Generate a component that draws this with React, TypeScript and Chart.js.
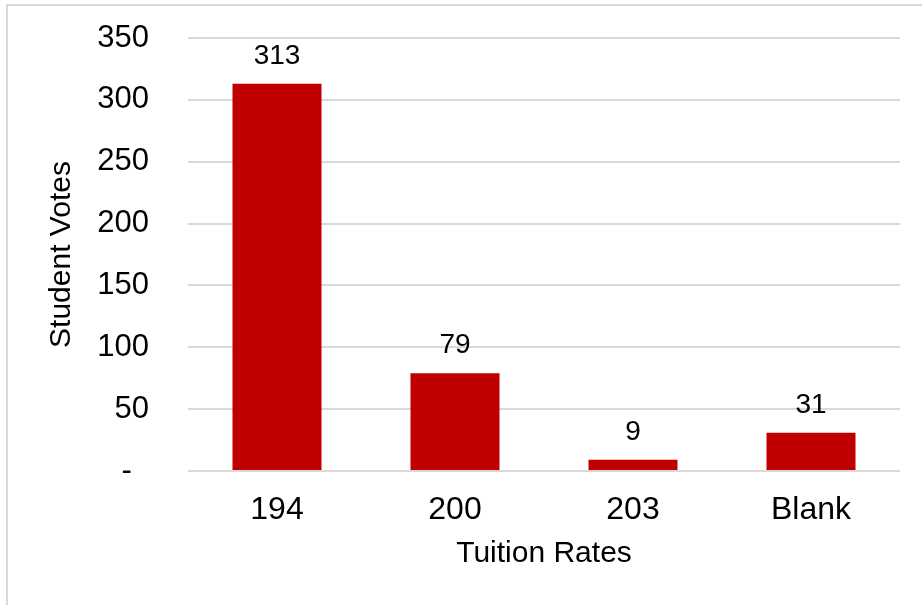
import React, { useEffect, useRef } from "react";
import { Chart, registerables } from "chart.js";

Chart.register(...registerables);

const categories = ["194", "200", "203", "Blank"];
const votes = [313, 79, 9, 31];
const yTicks = [0, 50, 100, 150, 200, 250, 300, 350];
const xTitle = "Tuition Rates";
const yTitle = "Student Votes";

const FONT = "'Liberation Sans', Arial, sans-serif";

const framePlugin = {
  id: "frame",
  beforeDraw(chart: any) {
    const ctx = chart.ctx;
    ctx.save();
    ctx.fillStyle = "#ffffff";
    ctx.fillRect(0, 0, chart.width, chart.height);
    ctx.strokeStyle = "#d9d9d9";
    ctx.lineWidth = 2;
    ctx.beginPath();
    ctx.moveTo(7, chart.height + 5);
    ctx.lineTo(7, 5);
    ctx.lineTo(chart.width + 5, 5);
    ctx.stroke();
    ctx.restore();
  },
};

const labelPlugin = {
  id: "barLabels",
  afterDatasetsDraw(chart: any) {
    const ctx = chart.ctx;
    const meta = chart.getDatasetMeta(0);
    const data = chart.data.datasets[0].data;
    ctx.save();
    ctx.fillStyle = "#000000";
    ctx.font = `28px ${FONT}`;
    ctx.textAlign = "center";
    ctx.textBaseline = "alphabetic";
    meta.data.forEach((bar: any, i: number) => {
      ctx.fillText(String(data[i]), bar.x, bar.y - 20);
    });
    ctx.restore();
  },
};

export default function App() {
  const ref = useRef<HTMLCanvasElement | null>(null);
  useEffect(() => {
    if (!ref.current) return;
    const chart = new Chart(ref.current, {
      type: "bar",
      data: {
        labels: categories,
        datasets: [
          {
            data: votes,
            backgroundColor: "#c00000",
            borderWidth: 0,
            barPercentage: 0.5,
            categoryPercentage: 1,
          },
        ],
      },
      options: {
        animation: false,
        responsive: false,
        maintainAspectRatio: false,
        layout: { padding: { top: 38, right: 22, left: 0, bottom: 0 } },
        plugins: {
          legend: { display: false },
          tooltip: { enabled: false },
        },
        scales: {
          x: {
            grid: { display: false, drawTicks: false },
            border: { display: false },
            ticks: {
              color: "#000000",
              font: { family: FONT, size: 32 },
              padding: 20,
              maxRotation: 0,
            },
            title: {
              display: true,
              text: xTitle,
              color: "#000000",
              font: { family: FONT, size: 30 },
              padding: { top: 0, bottom: 33 },
            },
            afterFit(scale: any) {
              scale.height = 134;
              scale.paddingLeft = 0;
              scale.paddingRight = 0;
            },
          },
          y: {
            min: 0,
            max: 350,
            afterBuildTicks(scale: any) {
              scale.ticks = yTicks.map((v) => ({ value: v }));
            },
            grid: { color: "#d9d9d9", lineWidth: 2, drawTicks: false },
            border: { display: false },
            ticks: {
              color: "#000000",
              font: { family: FONT, size: 31 },
              padding: 39,
              callback: (v: any) => (Number(v) === 0 ? "-  " : String(v)),
            },
            title: {
              display: true,
              text: yTitle,
              color: "#000000",
              font: { family: FONT, size: 30 },
              padding: { top: 44, bottom: 0 },
            },
            afterFit(scale: any) {
              scale.width = 188;
              scale.paddingTop = 0;
              scale.paddingBottom = 0;
            },
          },
        },
      },
      plugins: [framePlugin, labelPlugin],
    });
    return () => chart.destroy();
  }, []);
  return (
    <div style={{ position: "fixed", left: 0, top: 0, width: 922, height: 605, background: "#fff" }}>
      <canvas ref={ref} width={922} height={605} style={{ display: "block", width: 922, height: 605 }} />
    </div>
  );
}
